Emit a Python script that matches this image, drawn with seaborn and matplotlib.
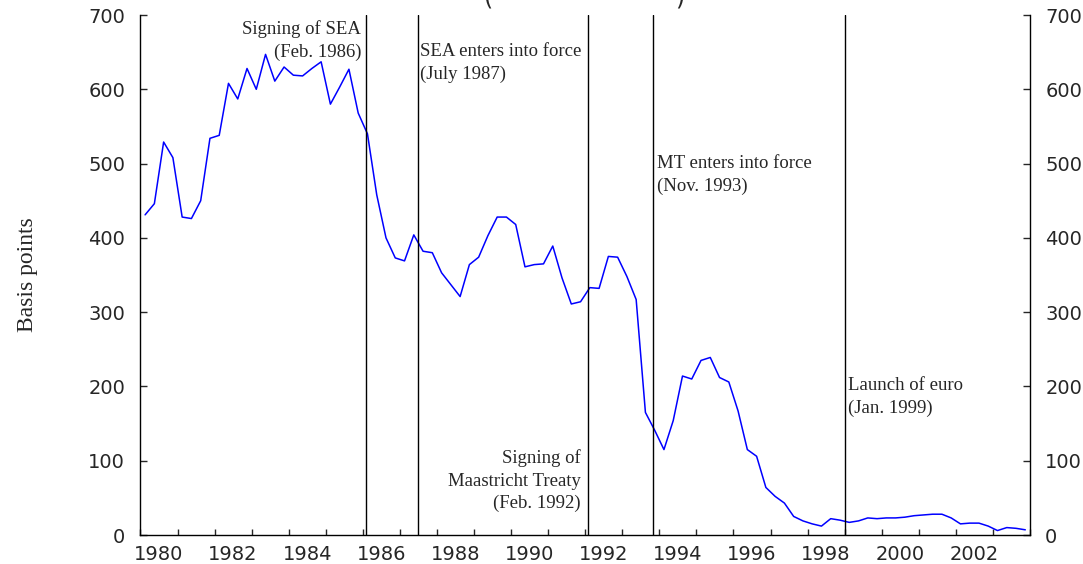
import numpy as np
import pandas as pd
import matplotlib
matplotlib.use("Agg")
import matplotlib.pyplot as plt
import seaborn as sns

sns.set_style("ticks")
plt.rcParams["font.family"] = ["DejaVu Sans"]

# quarterly spread, basis points, 1980Q1 - 2003Q4
quarters = np.arange(1980.125, 2004.0, 0.25)
spread = [431, 446, 529, 508, 428, 426, 450, 534, 538, 608,
          587, 628, 600, 647, 611, 630, 619, 618, 628, 637,
          580, 603, 627, 568, 540, 458, 400, 373, 369, 404,
          382, 380, 353, 337, 321, 364, 374, 403, 428, 428,
          418, 361, 364, 365, 389, 346, 311, 314, 333, 332,
          375, 374, 348, 317, 165, 141, 115, 154, 214, 210,
          235, 239, 212, 206, 167, 115, 106, 64, 52, 43,
          25, 19, 15, 12, 22, 20, 17, 19, 23, 22,
          23, 23, 24, 26, 27, 28, 28, 23, 15, 16,
          16, 12, 6, 10, 9, 7]

# events: date, label, text anchor (x, y, alignment)
event_dates = [1986.08, 1987.5, 1992.08, 1993.83, 1999.0]
event_labels = ["Signing of SEA\n(Feb. 1986)",
                "SEA enters into force\n(July 1987)",
                "Signing of\nMaastricht Treaty\n(Feb. 1992)",
                "MT enters into force\n(Nov. 1993)",
                "Launch of euro\n(Jan. 1999)"]
label_x = [1985.96, 1987.55, 1991.88, 1993.93, 1999.09]
label_y = [666, 635, 73, 485, 186]
label_ha = ["right", "left", "right", "left", "left"]

year_ticks = np.arange(1980, 2005, 1)
year_labels = [str(y) for y in range(1980, 2004, 2)]

df = pd.DataFrame({"date": quarters, "spread": spread})

fig, ax = plt.subplots(figsize=(10.83, 5.64), dpi=100)
fig.subplots_adjust(left=0.1297, right=0.951, bottom=0.0514, top=0.9734)

sns.lineplot(data=df, x="date", y="spread", color="blue", linewidth=1.1, ax=ax)

for d in event_dates:
    ax.axvline(d, color="black", linewidth=1.0)

serif = ["Liberation Serif", "DejaVu Serif"]
for x, y, txt, ha in zip(label_x, label_y, event_labels, label_ha):
    ax.text(x, y, txt, ha=ha, va="center", multialignment=ha,
            family=serif, fontsize=13.5, linespacing=1.4)

ax.set_xlim(1980, 2004)
ax.set_ylim(0, 700)
ax.set_xticks(year_ticks)
ax.set_xticklabels([])
ax.set_xticks(np.arange(1980.5, 2004, 2), minor=True)
ax.set_xticklabels(year_labels, minor=True)
ax.tick_params(axis="x", which="major", direction="in", length=4, width=1)
ax.tick_params(axis="x", which="minor", length=0, pad=7, labelsize=14)

ax.set_yticks(range(0, 701, 100))
ax.tick_params(axis="y", direction="in", length=5, width=1, pad=11,
               labelsize=14, right=True, labelright=True)

ax.set_xlabel("")
ax.set_ylabel("Basis points", family=serif, fontsize=17, labelpad=36)
ax.spines["top"].set_visible(False)
for s in ["left", "right", "bottom"]:
    ax.spines[s].set_linewidth(1.0)
    ax.spines[s].set_color("black")

# title is cut off at the top in the original
fig.text(484 / 1083, 1 - 9 / 564, "(", ha="left", va="bottom", fontsize=17)
fig.text(684 / 1083, 1 - 9 / 564, ")", ha="right", va="bottom", fontsize=17)

fig.savefig("out.png", dpi=100)
